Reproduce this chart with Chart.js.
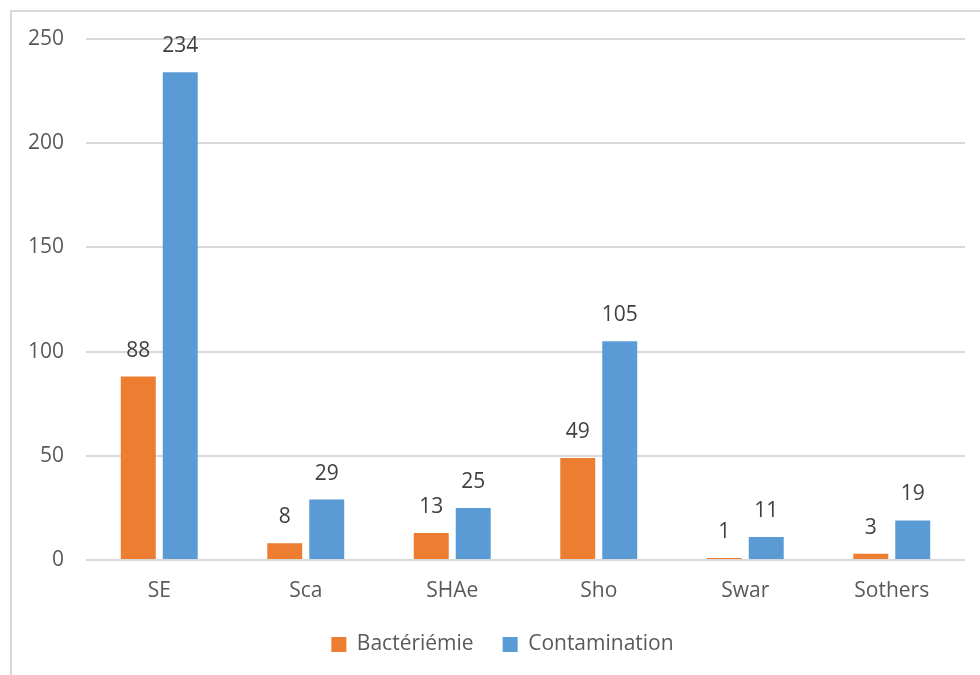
<!DOCTYPE html>
<html>
<head>
<meta charset="utf-8">
<script src="https://cdn.jsdelivr.net/npm/chart.js@4/dist/chart.umd.min.js"></script>
<style>
  html, body { margin:0; padding:0; background:#fff; overflow:hidden; }
  #frame { position:absolute; left:10px; top:10px; width:990px; height:700px; border:2px solid #d9d9d9; box-sizing:border-box; }
  #wrap { position:absolute; left:0; top:0; width:980px; height:675px; }
</style>
</head>
<body>
<div id="frame"></div>
<div id="wrap"><canvas id="chart" width="980" height="675"></canvas></div>
<script>
// categories and values
const categories = ['SE', 'Sca', 'SHAe', 'Sho', 'Swar', 'Sothers'];
const bacteriemie = [88, 8, 13, 49, 1, 3];
const contamination = [234, 29, 25, 105, 11, 19];
const yTicks = [0, 50, 100, 150, 200, 250];

const font = "'Open Sans', 'Liberation Sans', sans-serif";

// draw the value above each bar
const valueLabels = {
  id: 'valueLabels',
  afterDatasetsDraw(chart){
    const ctx = chart.ctx;
    ctx.save();
    ctx.font = '21px ' + font;
    ctx.fillStyle = '#404040';
    ctx.textAlign = 'center';
    ctx.textBaseline = 'middle';
    chart.data.datasets.forEach(function(ds, i){
      chart.getDatasetMeta(i).data.forEach(function(bar, j){
        ctx.fillText(String(ds.data[j]), bar.x, bar.y - 26);
      });
    });
    ctx.restore();
  }
};

// legend in the reference sits a bit right of the canvas centre and a little higher
const nudgeLegend = {
  id: 'nudgeLegend',
  afterLayout(chart){
    const lg = chart.legend;
    if (lg){ lg.left += 15; lg.right += 15; lg.top -= 7; lg.bottom -= 7; }
  }
};

new Chart(document.getElementById('chart').getContext('2d'), {
  type: 'bar',
  data: {
    labels: categories,
    datasets: [
      { label: 'Bactériémie', data: bacteriemie, backgroundColor: '#ed7d31', categoryPercentage: 0.573, barPercentage: 0.833 },
      { label: 'Contamination', data: contamination, backgroundColor: '#5b9bd5', categoryPercentage: 0.573, barPercentage: 0.833 }
    ]
  },
  options: {
    responsive: false,
    animation: false,
    layout: { padding: { left: 10, right: 15, top: 39, bottom: 3 } },
    plugins: {
      tooltip: { enabled: false },
      legend: {
        position: 'bottom',
        labels: { font: { family: font, size: 21 }, color: '#595959', boxWidth: 15, boxHeight: 15, padding: 29 }
      }
    },
    scales: {
      x: {
        grid: { display: false },
        border: { display: false },
        ticks: { font: { family: font, size: 21 }, color: '#595959', padding: 10 },
        afterFit(s){ s.height = 52; }
      },
      y: {
        min: 0, max: 250,
        afterBuildTicks(s){ s.ticks = yTicks.map(v => ({ value: v })); },
        afterFit(s){ s.width = 76; },
        grid: { color: '#d9d9d9', lineWidth: 2, drawTicks: false },
        border: { display: false },
        ticks: { font: { family: font, size: 21 }, color: '#595959', padding: 22 }
      }
    }
  },
  plugins: [valueLabels, nudgeLegend]
});
</script>
</body>
</html>
